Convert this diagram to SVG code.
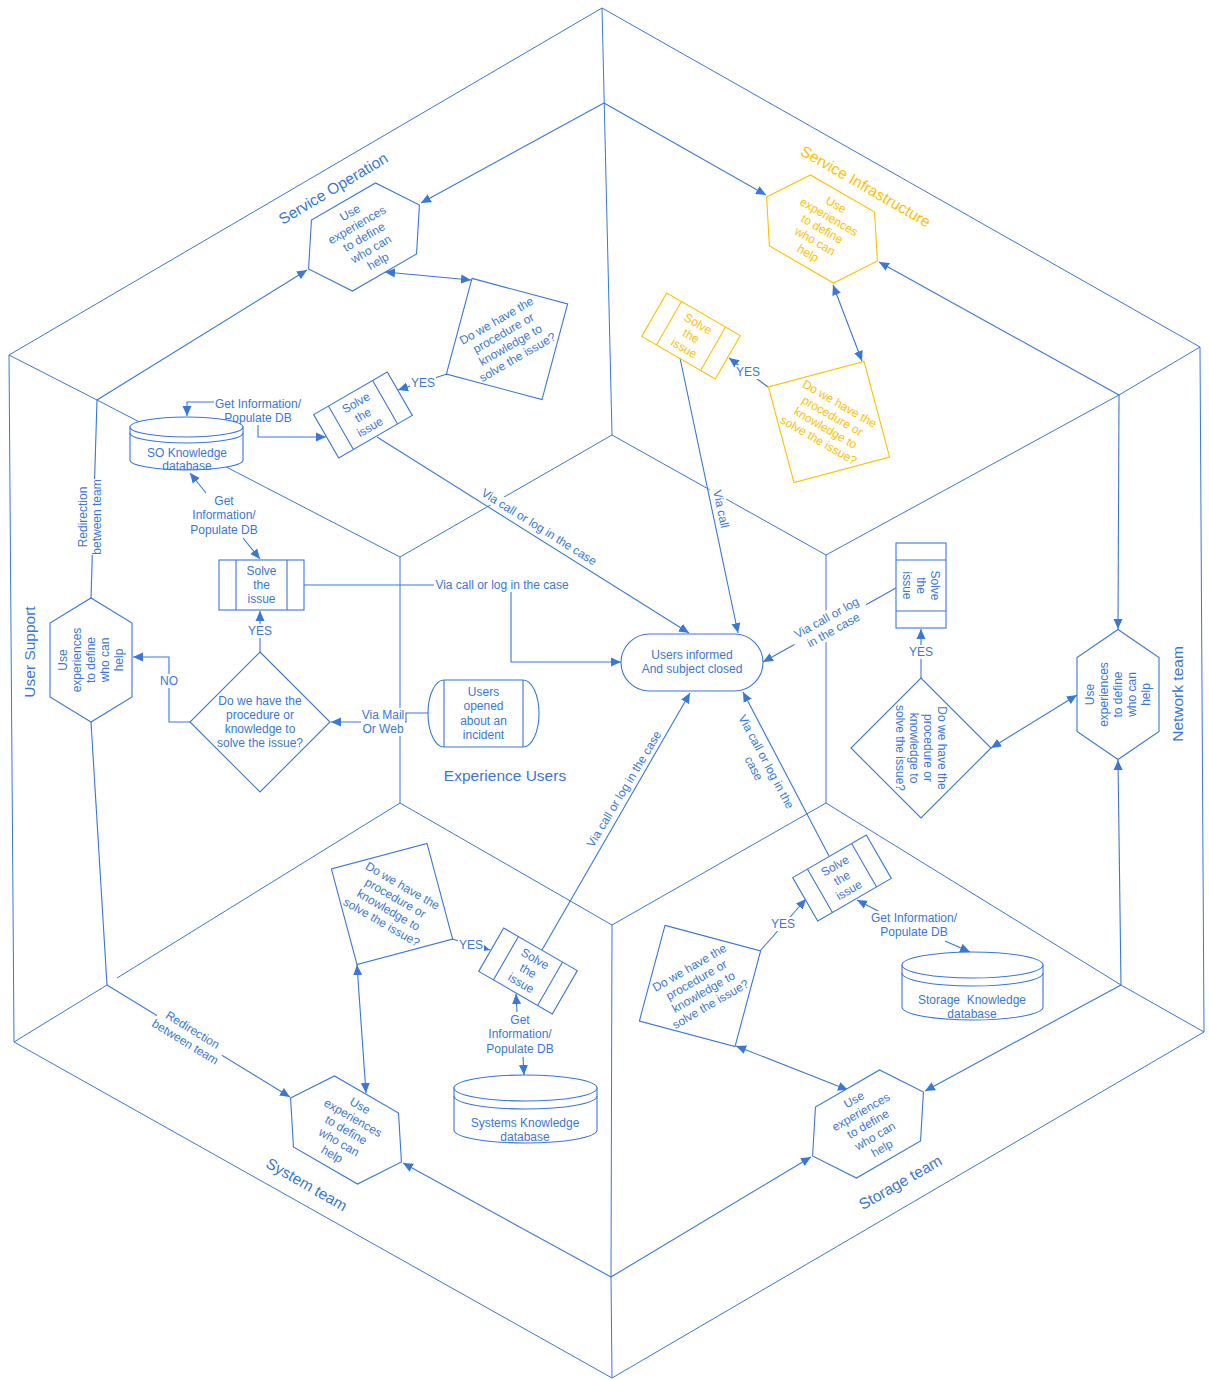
<svg xmlns="http://www.w3.org/2000/svg" width="1209" height="1380" viewBox="0 0 1209 1380">
<style>
.fr{fill:none;stroke:#3a77d6;stroke-width:1}
.ln{fill:none;stroke:#3a77d6;stroke-width:1.1}
.nd{fill:#fff;stroke:#3a77d6;stroke-width:1.1}
.ndo{fill:#fff;stroke:#ffc000;stroke-width:1.1}
.ndl{fill:none;stroke:#3a77d6;stroke-width:1.1}
.ndlo{fill:none;stroke:#ffc000;stroke-width:1.1}
text{font-family:'Liberation Sans',Arial,sans-serif;font-size:12px;fill:#3a77d6;text-anchor:middle}
.o{fill:#ffc000}
.big{font-size:15.5px}
.bg{fill:#fff;stroke:none}
</style>
<defs>
<marker id="ar" viewBox="0 0 10 10" refX="10" refY="5" markerWidth="10" markerHeight="10" markerUnits="userSpaceOnUse" orient="auto-start-reverse">
<path d="M0,0.5 L10,5 L0,9.5 z" fill="#3a77d6"/>
</marker>
</defs>
<rect width="1209" height="1380" fill="#fff"/>

<g id="frame">
<polygon class="fr" points="602,8 1200,347 1204,1032 612,1378 14,1042 9,355"/>
<path class="fr" d="M602,8 L612,435"/>
<path class="fr" d="M1200,347 L1119,395 L826,555"/>
<path class="fr" d="M1204,1032 L1121,985 L826,803"/>
<path class="fr" d="M612,1378 L611,1277 L612,925"/>
<path class="fr" d="M14,1042 L107,985"/>
<path class="fr" d="M400,803 L117,978"/>
<path class="fr" d="M9,355 L97,400 L400,557"/>
<polygon class="fr" points="612,435 826,555 826,803 612,925 400,803 400,557"/>
</g>

<g id="connectors">
<path class="ln" d="M97,400 L307,270" marker-end="url(#ar)"/>
<path class="ln" d="M604,103 L421,203" marker-end="url(#ar)"/>
<path class="ln" d="M604,103 L766,195" marker-end="url(#ar)"/>
<path class="ln" d="M1119,395 L879,262" marker-end="url(#ar)"/>
<path class="ln" d="M1119,395 L1118,629" marker-end="url(#ar)"/>
<path class="ln" d="M1121,985 L1118,760" marker-end="url(#ar)"/>
<path class="ln" d="M1121,985 L925,1091" marker-end="url(#ar)"/>
<path class="ln" d="M611,1277 L811,1157" marker-end="url(#ar)"/>
<path class="ln" d="M611,1277 L403,1163" marker-end="url(#ar)"/>
<path class="ln" d="M107,985 L290,1097" marker-end="url(#ar)"/>
<path class="ln" d="M97,400 L91,598"/>
<path class="ln" d="M91,722 L107,985"/>
<path class="ln" d="M385,272 L471,280" marker-start="url(#ar)" marker-end="url(#ar)"/>
<path class="ln" d="M447,374 L398,390" marker-end="url(#ar)"/>
<path class="ln" d="M377,437 L689,633" marker-end="url(#ar)"/>
<path class="ln" d="M215,402 L187,402 L187,416" marker-end="url(#ar)"/>
<path class="ln" d="M258,424 L258,437 L326,437" marker-end="url(#ar)"/>
<path class="ln" d="M206,493 L190,473" marker-end="url(#ar)"/>
<path class="ln" d="M243,538 L260,559" marker-end="url(#ar)"/>
<path class="ln" d="M260,652 L260,611" marker-end="url(#ar)"/>
<path class="ln" d="M190,722 L169,722 L169,657 L133,657" marker-end="url(#ar)"/>
<path class="ln" d="M428,713 L406,713 L406,722 L331,722" marker-end="url(#ar)"/>
<path class="ln" d="M304,585 L511,585 L511,662 L621,662" marker-end="url(#ar)"/>
<path class="ln" d="M833,285 L862,361" marker-start="url(#ar)" marker-end="url(#ar)"/>
<path class="ln" d="M768,387 L729,358" marker-end="url(#ar)"/>
<path class="ln" d="M680,358 L738,633" marker-end="url(#ar)"/>
<path class="ln" d="M921,678 L921,629" marker-end="url(#ar)"/>
<path class="ln" d="M991,748 L1077,695" marker-start="url(#ar)" marker-end="url(#ar)"/>
<path class="ln" d="M896,588 L763,662" marker-end="url(#ar)"/>
<path class="ln" d="M760,951 L806,899" marker-end="url(#ar)"/>
<path class="ln" d="M829,856 L743,692" marker-end="url(#ar)"/>
<path class="ln" d="M880,912 L857,900" marker-end="url(#ar)"/>
<path class="ln" d="M945,941 L970,952" marker-end="url(#ar)"/>
<path class="ln" d="M736,1046 L848,1090" marker-start="url(#ar)" marker-end="url(#ar)"/>
<path class="ln" d="M452,939 L490,950" marker-end="url(#ar)"/>
<path class="ln" d="M542,950 L690,693" marker-end="url(#ar)"/>
<path class="ln" d="M517,1012 L516,994" marker-end="url(#ar)"/>
<path class="ln" d="M523,1057 L524,1075" marker-end="url(#ar)"/>
<path class="ln" d="M357,965 L366,1093" marker-start="url(#ar)" marker-end="url(#ar)"/>

<g id="edge-labels">
<g transform="translate(539,527) rotate(32)"><rect class="bg" x="-71" y="-7" width="142" height="14"/><text y="4">Via call or log in the case</text></g>
<g transform="translate(721,509) rotate(78)"><rect class="bg" x="-23" y="-7" width="46" height="14"/><text y="4">Via call</text></g>
<g transform="translate(830,624) rotate(-29)"><rect class="bg" x="-41" y="-14" width="82" height="28"/><text><tspan x="0" y="-3">Via call or log</tspan><tspan x="0" y="11">in the case</tspan></text></g>
<g transform="translate(760,765) rotate(62)"><rect class="bg" x="-58" y="-14" width="116" height="28"/><text><tspan x="0" y="-3">Via call or log in the</tspan><tspan x="0" y="11">case</tspan></text></g>
<g transform="translate(624,789) rotate(-59)"><text y="4">Via call or log in the case</text></g>
<rect class="bg" x="434" y="578" width="136" height="14"/><text x="502" y="589">Via call or log in the case</text>
<rect class="bg" x="361" y="708" width="44" height="28"/><text><tspan x="383" y="719">Via Mail</tspan><tspan x="383" y="733">Or Web</tspan></text>
<rect class="bg" x="158" y="674" width="22" height="14"/><text x="169" y="685">NO</text>
<rect class="bg" x="248" y="624" width="24" height="14"/><text x="260" y="635">YES</text>
<rect class="bg" x="410" y="376" width="26" height="14"/><text x="423" y="387">YES</text>
<rect class="bg" x="735" y="365" width="26" height="14"/><text x="748" y="376">YES</text>
<rect class="bg" x="909" y="645" width="24" height="14"/><text x="921" y="656">YES</text>
<rect class="bg" x="770" y="917" width="26" height="14"/><text x="783" y="928">YES</text>
<rect class="bg" x="458" y="938" width="26" height="14"/><text x="471" y="949">YES</text>
<rect class="bg" x="214" y="397" width="90" height="28"/><text><tspan x="258" y="408">Get Information/</tspan><tspan x="258" y="422">Populate DB</tspan></text>
<rect class="bg" x="190" y="494" width="70" height="42"/><text><tspan x="224" y="505">Get</tspan><tspan x="224" y="519">Information/</tspan><tspan x="224" y="534">Populate DB</tspan></text>
<rect class="bg" x="870" y="911" width="90" height="28"/><text><tspan x="914" y="922">Get Information/</tspan><tspan x="914" y="936">Populate DB</tspan></text>
<rect class="bg" x="486" y="1013" width="70" height="42"/><text><tspan x="520" y="1024">Get</tspan><tspan x="520" y="1038">Information/</tspan><tspan x="520" y="1053">Populate DB</tspan></text>
<g transform="translate(90,517) rotate(-90)"><rect class="bg" x="-38" y="-14" width="76" height="28"/><text><tspan x="0" y="-3">Redirection</tspan><tspan x="0" y="11">between team</tspan></text></g>
<g transform="translate(189,1036) rotate(31.5)"><rect class="bg" x="-38" y="-14" width="76" height="28"/><text><tspan x="0" y="-3">Redirection</tspan><tspan x="0" y="11">between team</tspan></text></g>
</g>
</g>

<g id="so-hex" transform="translate(364,237) rotate(-30)">
<polygon class="nd" points="-64,0 -37,-41 37,-41 64,0 37,41 -37,41"/>
<text><tspan x="0" y="-24">Use</tspan><tspan x="0" y="-10">experiences</tspan><tspan x="0" y="4">to define</tspan><tspan x="0" y="18">who can</tspan><tspan x="0" y="32">help</tspan></text>
</g>
<g id="so-decision" transform="translate(507,339) rotate(-30)">
<polygon class="nd" points="0,-70 70,0 0,70 -70,0"/>
<text><tspan x="0" y="-17">Do we have the</tspan><tspan x="0" y="-3">procedure or</tspan><tspan x="0" y="11">knowledge to</tspan><tspan x="0" y="25">solve the issue?</tspan></text>
</g>
<g id="so-solve" transform="translate(363,415) rotate(-30)">
<rect class="nd" x="-42.5" y="-25" width="85" height="50"/>
<path class="ndl" d="M-25.5,-25 V25 M25.5,-25 V25"/>
<text><tspan x="0" y="-10">Solve</tspan><tspan x="0" y="4">the</tspan><tspan x="0" y="18">issue</tspan></text>
</g>
<g id="so-db">
<path class="nd" d="M130,427 L130,460 A56.5,10 0 0 0 243,460 L243,427 Z"/>
<ellipse class="nd" cx="186.5" cy="427" rx="56.5" ry="10"/>
<path class="ndl" d="M130,433 A56.5,10 0 0 0 243,433"/>
<text><tspan x="187" y="457">SO Knowledge</tspan><tspan x="187" y="470">database</tspan></text>
</g>
<g id="us-solve" transform="translate(261.5,585)">
<rect class="nd" x="-42.5" y="-25" width="85" height="50"/>
<path class="ndl" d="M-25.5,-25 V25 M25.5,-25 V25"/>
<text><tspan x="0" y="-10">Solve</tspan><tspan x="0" y="4">the</tspan><tspan x="0" y="18">issue</tspan></text>
</g>
<g id="us-decision" transform="translate(260,722)">
<polygon class="nd" points="0,-70 70,0 0,70 -70,0"/>
<text><tspan x="0" y="-17">Do we have the</tspan><tspan x="0" y="-3">procedure or</tspan><tspan x="0" y="11">knowledge to</tspan><tspan x="0" y="25">solve the issue?</tspan></text>
</g>
<g id="us-hex" transform="translate(91,660) rotate(-90)">
<polygon class="nd" points="-62,0 -37,-41 37,-41 62,0 37,41 -37,41"/>
<text><tspan x="0" y="-24">Use</tspan><tspan x="0" y="-10">experiences</tspan><tspan x="0" y="4">to define</tspan><tspan x="0" y="18">who can</tspan><tspan x="0" y="32">help</tspan></text>
</g>
<g id="users-opened">
<path class="nd" d="M444,680 L523,680 A16,33.5 0 0 1 523,747 L444,747 A16,33.5 0 0 1 444,680 Z"/>
<path class="ndl" d="M444,680 V747 M523,680 V747"/>
<text><tspan x="483.5" y="696">Users</tspan><tspan x="483.5" y="710">opened</tspan><tspan x="483.5" y="725">about an</tspan><tspan x="483.5" y="739">incident</tspan></text>
</g>
<g id="users-informed">
<rect class="nd" x="621" y="634" width="142" height="57" rx="28.5"/>
<text><tspan x="692" y="659">Users informed</tspan><tspan x="692" y="673">And subject closed</tspan></text>
</g>
<g id="si-hex" transform="translate(822,229) rotate(30)">
<polygon class="ndo" points="-64,0 -37,-41 37,-41 64,0 37,41 -37,41"/>
<text class="o"><tspan x="0" y="-24">Use</tspan><tspan x="0" y="-10">experiences</tspan><tspan x="0" y="4">to define</tspan><tspan x="0" y="18">who can</tspan><tspan x="0" y="32">help</tspan></text>
</g>
<g id="si-solve" transform="translate(691,336) rotate(30)">
<rect class="ndo" x="-42.5" y="-25" width="85" height="50"/>
<path class="ndlo" d="M-25.5,-25 V25 M25.5,-25 V25"/>
<text class="o"><tspan x="0" y="-10">Solve</tspan><tspan x="0" y="4">the</tspan><tspan x="0" y="18">issue</tspan></text>
</g>
<g id="si-decision" transform="translate(829,422) rotate(30)">
<polygon class="ndo" points="0,-70 70,0 0,70 -70,0"/>
<text class="o"><tspan x="0" y="-17">Do we have the</tspan><tspan x="0" y="-3">procedure or</tspan><tspan x="0" y="11">knowledge to</tspan><tspan x="0" y="25">solve the issue?</tspan></text>
</g>
<g id="nt-solve" transform="translate(921,585.5) rotate(90)">
<rect class="nd" x="-42.5" y="-25" width="85" height="50"/>
<path class="ndl" d="M-25.5,-25 V25 M25.5,-25 V25"/>
<text><tspan x="0" y="-10">Solve</tspan><tspan x="0" y="4">the</tspan><tspan x="0" y="18">issue</tspan></text>
</g>
<g id="nt-decision" transform="translate(921,748) rotate(90)">
<polygon class="nd" points="0,-70 70,0 0,70 -70,0"/>
<text><tspan x="0" y="-17">Do we have the</tspan><tspan x="0" y="-3">procedure or</tspan><tspan x="0" y="11">knowledge to</tspan><tspan x="0" y="25">solve the issue?</tspan></text>
</g>
<g id="nt-hex" transform="translate(1118,694.5) rotate(-90)">
<polygon class="nd" points="-65,0 -37,-41 37,-41 65,0 37,41 -37,41"/>
<text><tspan x="0" y="-24">Use</tspan><tspan x="0" y="-10">experiences</tspan><tspan x="0" y="4">to define</tspan><tspan x="0" y="18">who can</tspan><tspan x="0" y="32">help</tspan></text>
</g>
<g id="st-solve" transform="translate(842,878) rotate(-30)">
<rect class="nd" x="-42.5" y="-25" width="85" height="50"/>
<path class="ndl" d="M-25.5,-25 V25 M25.5,-25 V25"/>
<text><tspan x="0" y="-10">Solve</tspan><tspan x="0" y="4">the</tspan><tspan x="0" y="18">issue</tspan></text>
</g>
<g id="st-decision" transform="translate(700,986) rotate(-30)">
<polygon class="nd" points="0,-70 70,0 0,70 -70,0"/>
<text><tspan x="0" y="-17">Do we have the</tspan><tspan x="0" y="-3">procedure or</tspan><tspan x="0" y="11">knowledge to</tspan><tspan x="0" y="25">solve the issue?</tspan></text>
</g>
<g id="st-db">
<path class="nd" d="M902,965 L902,1007 A70.5,13 0 0 0 1043,1007 L1043,965 Z"/>
<ellipse class="nd" cx="972.5" cy="965" rx="70.5" ry="13"/>
<path class="ndl" d="M902,973 A70.5,13 0 0 0 1043,973"/>
<text style="white-space:pre"><tspan x="972" y="1004">Storage  Knowledge</tspan><tspan x="972" y="1018">database</tspan></text>
</g>
<g id="st-hex" transform="translate(868,1124) rotate(-30)">
<polygon class="nd" points="-64,0 -37,-41 37,-41 64,0 37,41 -37,41"/>
<text><tspan x="0" y="-24">Use</tspan><tspan x="0" y="-10">experiences</tspan><tspan x="0" y="4">to define</tspan><tspan x="0" y="18">who can</tspan><tspan x="0" y="32">help</tspan></text>
</g>
<g id="sy-decision" transform="translate(392,904) rotate(30)">
<polygon class="nd" points="0,-70 70,0 0,70 -70,0"/>
<text><tspan x="0" y="-17">Do we have the</tspan><tspan x="0" y="-3">procedure or</tspan><tspan x="0" y="11">knowledge to</tspan><tspan x="0" y="25">solve the issue?</tspan></text>
</g>
<g id="sy-solve" transform="translate(528,971) rotate(30)">
<rect class="nd" x="-42.5" y="-25" width="85" height="50"/>
<path class="ndl" d="M-25.5,-25 V25 M25.5,-25 V25"/>
<text><tspan x="0" y="-10">Solve</tspan><tspan x="0" y="4">the</tspan><tspan x="0" y="18">issue</tspan></text>
</g>
<g id="sy-db">
<path class="nd" d="M454,1088 L454,1130 A71.5,13 0 0 0 597,1130 L597,1088 Z"/>
<ellipse class="nd" cx="525.5" cy="1088" rx="71.5" ry="13"/>
<path class="ndl" d="M454,1096 A71.5,13 0 0 0 597,1096"/>
<text><tspan x="525" y="1127">Systems Knowledge</tspan><tspan x="525" y="1141">database</tspan></text>
</g>
<g id="sy-hex" transform="translate(346,1130) rotate(30)">
<polygon class="nd" points="-64,0 -37,-41 37,-41 64,0 37,41 -37,41"/>
<text><tspan x="0" y="-24">Use</tspan><tspan x="0" y="-10">experiences</tspan><tspan x="0" y="4">to define</tspan><tspan x="0" y="18">who can</tspan><tspan x="0" y="32">help</tspan></text>
</g>

<g id="titles">
<text class="big" transform="translate(336,193) rotate(-31)">Service Operation</text>
<text class="big o" transform="translate(863,191) rotate(30)">Service Infrastructure</text>
<text class="big" transform="translate(35,652) rotate(-90)">User Support</text>
<text class="big" transform="translate(1183,694) rotate(-90)">Network team</text>
<text class="big" transform="translate(903,1187) rotate(-30)">Storage team</text>
<text class="big" transform="translate(304,1189) rotate(30)">System team</text>
<text class="big" x="505" y="781">Experience Users</text>
</g>
</svg>
